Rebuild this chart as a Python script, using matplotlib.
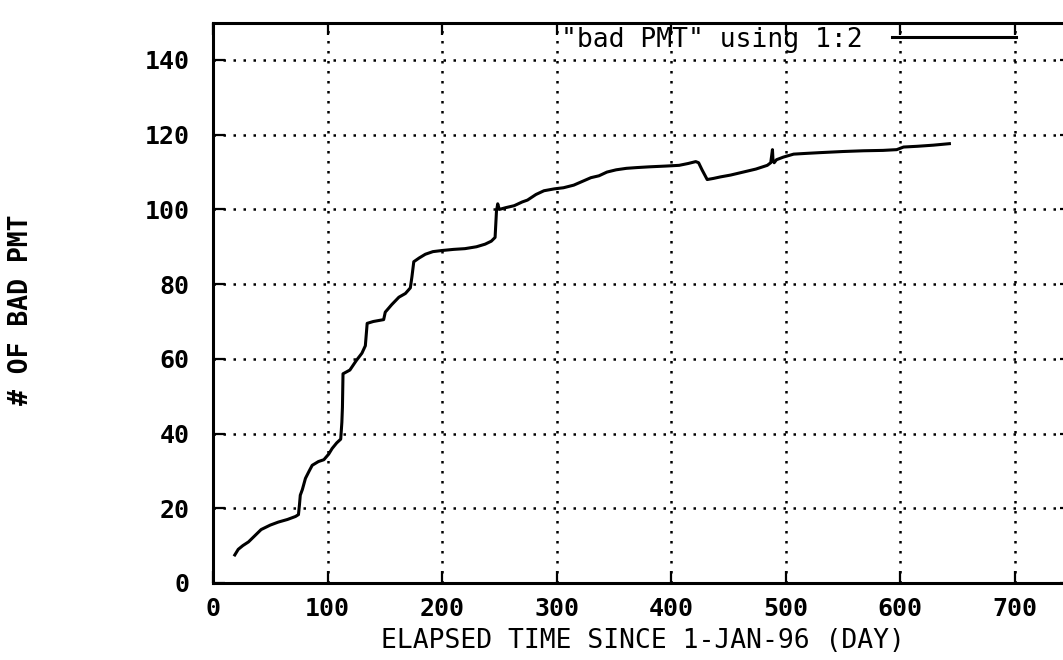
import matplotlib
matplotlib.use("Agg")
import matplotlib.pyplot as plt

# bad PMT count vs elapsed day
days = [19, 22, 26, 31, 36, 42, 50, 57, 65, 72, 74.6, 75.5, 76.2, 78, 80.7, 84, 86.6,
        92, 96.8, 101, 104, 108, 111.5, 112.5, 113, 113.5, 119.5, 125, 130, 133, 134.6,
        140, 149, 150.4, 156, 162.3, 168, 172.3, 173.7, 175.3, 180, 185.4, 192, 200,
        210, 220, 230, 237.6, 243, 246.3, 247.5, 248.6, 250, 256, 263, 270, 274.6, 282,
        289, 298, 306, 315, 321, 330, 337, 344, 352, 361, 370, 381, 395, 407, 415,
        421.5, 424, 427, 431.5, 437, 443, 452, 463, 474, 484, 487, 488.5, 489, 490,
        492, 498, 507, 518, 530, 550, 568, 585, 597, 603, 615, 629, 643]
bad_pmt = [7.5, 9, 10, 11, 12.5, 14.3, 15.5, 16.3, 17, 17.8, 18.3, 21, 23.5, 25, 28, 30,
           31.5, 32.5, 33, 34.5, 36, 37.5, 38.5, 43, 47, 56, 57, 59.5, 61.5, 63.5, 69.5,
           70, 70.5, 72.5, 74.5, 76.5, 77.5, 79, 82, 86, 87, 88, 88.7, 89,
           89.3, 89.5, 90, 90.7, 91.5, 92.5, 99.5, 101.5, 100, 100.5, 101, 102, 102.5, 104,
           105, 105.5, 105.8, 106.5, 107.3, 108.5, 109, 110, 110.6, 111, 111.2, 111.4, 111.6, 111.8, 112.3,
           112.8, 112.5, 110.6, 108, 108.3, 108.7, 109.2, 110, 110.8, 111.8, 112.5, 116, 113, 112.5,
           113.3, 114, 114.8, 115, 115.2, 115.5, 115.7, 115.8, 116, 116.7, 116.9, 117.2, 117.6]

x_ticks = [0, 100, 200, 300, 400, 500, 600, 700]
y_ticks = [0, 20, 40, 60, 80, 100, 120, 140]

plt.rcParams['font.family'] = ['DejaVu Sans Mono', 'DejaVu Sans']

fig = plt.figure(figsize=(10.63, 6.6), dpi=100)
ax = fig.add_axes([0.2004, 0.1167, 0.808, 0.849])

ax.plot(days, bad_pmt, color='black', linewidth=2.2, label='"bad PMT" using 1:2')

ax.set_xlim(0, 750)
ax.set_ylim(0, 150)
ax.set_xticks(x_ticks)
ax.set_yticks(y_ticks)
ax.grid(True, color='black', linestyle=(0, (1, 3)), linewidth=1.8)

ax.tick_params(direction='in', length=8.5, width=1.6, top=True, right=True,
               labelsize=18)
ax.tick_params(axis='x', pad=10)
ax.tick_params(axis='y', pad=17)
for lab in ax.get_xticklabels() + ax.get_yticklabels():
    lab.set_fontweight('bold')
for sp in ax.spines.values():
    sp.set_linewidth(2.2)

ax.set_xlabel("ELAPSED TIME SINCE 1-JAN-96 (DAY)", fontsize=19, labelpad=5)
ax.set_ylabel("# OF BAD PMT", fontsize=19, fontweight='bold')
ax.yaxis.set_label_coords(-0.209, 0.487)

ax.legend(loc='upper right', bbox_to_anchor=(0.935, 0.993), frameon=False,
          markerfirst=False, fontsize=19, handlelength=4.7, handletextpad=1.1,
          borderaxespad=0, borderpad=0)

fig.savefig("out.png", dpi=100)
